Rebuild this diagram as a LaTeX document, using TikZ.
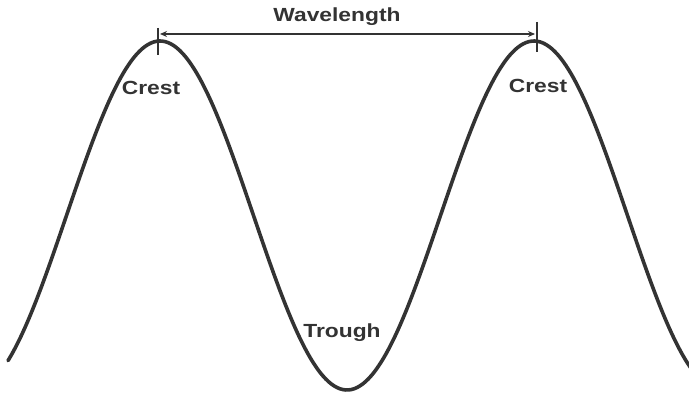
\documentclass[tikz,border=0pt]{standalone}
\usepackage{fontspec}
\setmainfont{Liberation Sans}
\usetikzlibrary{arrows.meta}
\definecolor{ink}{HTML}{333333}
\tikzset{
  wave/.style={draw=ink, line width=3.6pt, line cap=round},
  lbl/.style={text=ink, font=\bfseries\fontsize{19}{22}\selectfont, xscale=1.2, inner sep=0pt},
  tickmark/.style={draw=ink, line width=1.4pt},
  dim/.style={draw=ink, line width=2.2pt, {Stealth[length=7pt,width=6pt]}-{Stealth[length=7pt,width=6pt]}}
}
\begin{document}
\begin{tikzpicture}[x=1pt,y=-1pt]
\useasboundingbox (0,0) rectangle (689,395);
\fill[white] (0,0) rectangle (689,395);
\draw[wave, domain=8:692, samples=240, smooth] plot (\x, {215.5 - 174.5*cos((\x-160)/374*360)});
\coordinate (t1top) at (158,28);
\coordinate (t1bot) at (158,55);
\coordinate (t2top) at (537,22);
\coordinate (t2bot) at (537,52);
\draw[tickmark] (t1top) -- (t1bot);
\draw[tickmark] (t2top) -- (t2bot);
\coordinate (a1) at (160,34);
\coordinate (a2) at (535,34);
\draw[dim] (a1) -- (a2);
\node[lbl] (wl) at (337,17) {Wavelength};
\node[lbl] (c1) at (151,88) {Crest};
\node[lbl] (c2) at (538,86) {Crest};
\node[lbl] (tr) at (342,333) {Trough};
\end{tikzpicture}
\end{document}
